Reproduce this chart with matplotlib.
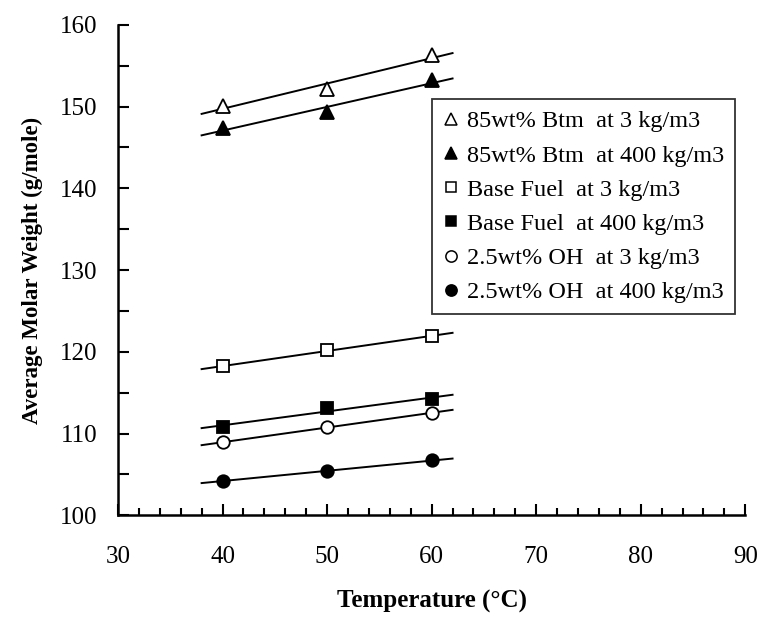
import numpy as np
import matplotlib.pyplot as plt
from matplotlib.lines import Line2D

plt.rcParams["font.family"] = ["Liberation Serif", "DejaVu Serif"]

# temperatures (deg C) and average molar weights (g/mole)
temperature = [40, 50, 60]
btm85_low = [150.1, 152.1, 156.3]
btm85_high = [147.4, 149.3, 153.2]
base_low = [118.2, 120.2, 121.9]
base_high = [110.8, 113.1, 114.2]
oh25_low = [108.9, 110.8, 112.5]
oh25_high = [104.2, 105.4, 106.7]

labels = [
    "85wt% Btm  at 3 kg/m3",
    "85wt% Btm  at 400 kg/m3",
    "Base Fuel  at 3 kg/m3",
    "Base Fuel  at 400 kg/m3",
    "2.5wt% OH  at 3 kg/m3",
    "2.5wt% OH  at 400 kg/m3",
]

series = [btm85_low, btm85_high, base_low, base_high, oh25_low, oh25_high]
markers = ["^", "^", "s", "s", "o", "o"]
fills = ["white", "black", "white", "black", "white", "black"]
sizes = [10, 10, 8.5, 8.5, 9, 9]

fig = plt.figure(figsize=(7.66, 6.23), dpi=100)
ax = fig.add_axes([0.154, 0.173, 0.819, 0.787])

fit_x = np.array([38.0, 62.0])
handles = []
for y, m, fc, ms, lab in zip(series, markers, fills, sizes, labels):
    # least-squares trend line through each series
    slope, icpt = np.polyfit(temperature, y, 1)
    ax.plot(fit_x, slope * fit_x + icpt, color="black", lw=1.4, zorder=2)
    ax.plot(temperature, y, linestyle="none", marker=m, markersize=ms,
            markerfacecolor=fc, markeredgecolor="black", markeredgewidth=1.3,
            zorder=3)
    handles.append(Line2D([], [], linestyle="none", marker=m, markersize=ms * 0.9,
                          markerfacecolor=fc, markeredgecolor="black",
                          markeredgewidth=1.1, label=lab))

ax.set_xlim(30, 90)
ax.set_ylim(100, 160)
ax.set_xticks(np.arange(30, 91, 10))
ax.set_xticks(np.arange(30, 91, 2), minor=True)
ax.set_yticks(np.arange(100, 161, 10))
ax.set_yticks(np.arange(100, 161, 5), minor=True)

for side in ["top", "right"]:
    ax.spines[side].set_visible(False)
for side in ["left", "bottom"]:
    ax.spines[side].set_linewidth(1.8)

ax.tick_params(axis="both", which="both", direction="in", width=1.5,
               labelsize=18)
ax.tick_params(axis="x", which="major", length=8, pad=22)
ax.tick_params(axis="x", which="minor", length=5)
ax.tick_params(axis="y", which="both", length=8, pad=15)

ax.set_xlabel("Temperature (°C)", fontsize=18, fontweight="bold")
ax.set_ylabel("Average Molar Weight (g/mole)", fontsize=16.5, fontweight="bold")
ax.xaxis.set_label_coords(0.5, -0.153)
ax.yaxis.set_label_coords(-0.12, 0.5)

leg = ax.legend(handles=handles, loc="upper left", bbox_to_anchor=(0.5, 0.848),
                fontsize=17.5, frameon=True, fancybox=False, edgecolor="black",
                handlelength=0.7, handletextpad=0.3, borderpad=0.45,
                labelspacing=0.5, borderaxespad=0)
leg.get_frame().set_linewidth(1.3)

fig.savefig("out.png", dpi=100)
